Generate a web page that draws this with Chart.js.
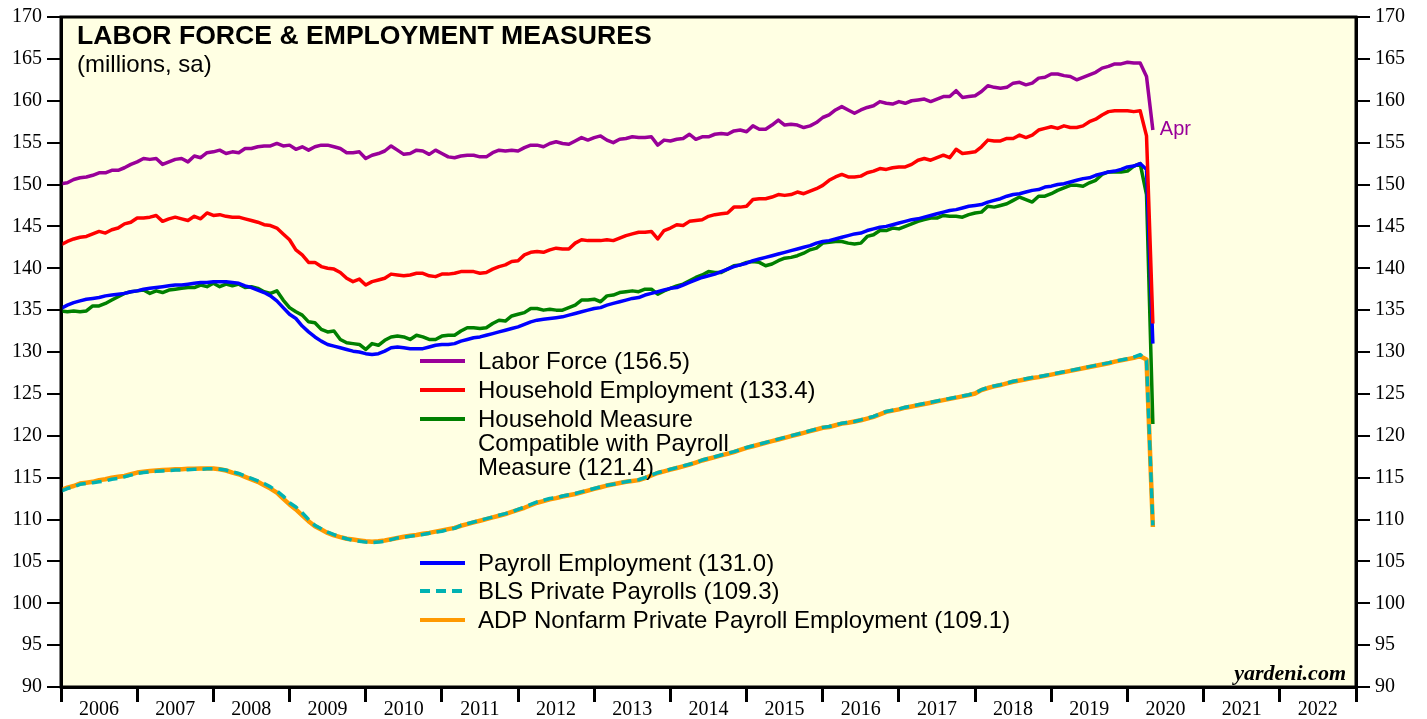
<!DOCTYPE html>
<html>
<head>
<meta charset="utf-8">
<script src="https://cdn.jsdelivr.net/npm/chart.js"></script>
<style>
  html, body { margin: 0; padding: 0; background: #ffffff; }
  #chart { display: block; }
</style>
</head>
<body>
<canvas id="chart" width="1427" height="719"></canvas>
<script>
// monthly data, Dec 2005 .. Apr 2020 (millions, sa)
const firstYear = 2006;
const lastMonthLabel = "Apr";

const laborForce = [150.1,
  150.2,150.6,150.8,150.9,151.1,151.4,151.4,151.7,151.7,152.0,152.4,152.7,
  153.1,153.0,153.1,152.4,152.7,153.0,153.1,152.7,153.4,153.2,153.8,153.9,
  154.1,153.7,153.9,153.8,154.3,154.3,154.5,154.6,154.6,154.9,154.6,154.7,
  154.2,154.5,154.1,154.5,154.7,154.7,154.5,154.3,153.8,153.8,153.9,153.1,
  153.5,153.7,154.0,154.6,154.1,153.6,153.7,154.1,154.0,153.6,154.1,153.7,
  153.3,153.2,153.4,153.5,153.5,153.3,153.3,153.8,154.1,154.0,154.1,154.0,
  154.4,154.7,154.7,154.5,154.9,155.1,154.9,154.8,155.2,155.6,155.3,155.6,
  155.8,155.3,155.0,155.4,155.5,155.7,155.6,155.6,155.7,154.7,155.3,155.2,
  155.4,155.5,156.0,155.4,155.7,155.7,156.0,156.1,156.0,156.4,156.5,156.3,
  157.0,156.6,156.6,157.1,157.7,157.1,157.2,157.1,156.8,157.0,157.4,158.0,
  158.3,158.9,159.3,158.9,158.5,158.9,159.2,159.4,159.9,159.7,159.6,159.9,
  159.7,160.0,160.1,160.2,159.9,160.2,160.5,160.5,161.2,160.4,160.5,160.6,
  161.1,161.8,161.6,161.5,161.6,162.1,162.2,161.9,162.1,162.7,162.8,163.2,
  163.2,163.0,162.9,162.5,162.8,163.1,163.4,163.9,164.1,164.4,164.4,164.6,
  164.5,164.5,162.9,156.5];

const householdEmp = [142.8,
  143.2,143.5,143.7,143.8,144.1,144.4,144.2,144.6,144.8,145.3,145.5,146.0,
  146.0,146.1,146.3,145.6,145.9,146.1,145.9,145.7,146.2,145.9,146.6,146.3,
  146.4,146.2,146.1,146.1,145.9,145.7,145.5,145.2,145.1,144.8,144.1,143.4,
  142.2,141.6,140.7,140.7,140.2,140.0,139.9,139.5,138.8,138.4,138.7,138.0,
  138.4,138.6,138.8,139.3,139.2,139.1,139.2,139.4,139.4,139.1,139.0,139.3,
  139.3,139.4,139.6,139.6,139.6,139.4,139.5,139.9,140.2,140.4,140.8,140.9,
  141.6,141.9,142.0,141.9,142.2,142.4,142.3,142.3,143.0,143.4,143.3,143.3,
  143.3,143.4,143.3,143.6,143.9,144.1,144.3,144.3,144.4,143.5,144.5,144.8,
  145.2,145.1,145.6,145.7,145.8,146.2,146.4,146.5,146.6,147.3,147.3,147.4,
  148.2,148.3,148.3,148.5,148.8,148.7,148.8,149.1,148.9,149.2,149.5,149.9,
  150.5,150.9,151.2,150.9,150.9,151.0,151.4,151.6,151.9,151.8,152.0,152.1,
  152.1,152.4,152.9,153.1,152.9,153.2,153.5,153.2,154.2,153.7,153.8,153.9,
  154.5,155.3,155.2,155.2,155.5,155.5,155.9,155.6,155.9,156.5,156.7,156.9,
  156.7,157.0,156.8,156.8,157.0,157.5,157.8,158.3,158.7,158.8,158.8,158.8,
  158.7,158.8,155.8,133.4];

const householdAdj = [134.9,
  134.8,134.9,134.8,134.9,135.5,135.5,135.8,136.2,136.6,137.0,137.2,137.3,
  137.4,137.0,137.3,137.1,137.4,137.5,137.6,137.7,137.7,138.0,137.8,138.2,
  137.8,138.1,137.9,138.1,137.7,137.8,137.6,137.2,137.0,137.3,136.2,135.3,
  134.8,134.4,133.6,133.5,132.7,132.4,132.5,131.5,131.1,131.0,130.9,130.3,
  131.0,130.8,131.4,131.8,131.9,131.8,131.5,132.0,131.8,131.5,131.5,131.9,
  132.0,132.0,132.5,132.9,132.9,132.8,132.9,133.4,133.8,133.7,134.3,134.5,
  134.7,135.2,135.2,135.0,135.1,135.0,135.0,135.3,135.6,136.2,136.2,136.3,
  136.0,136.7,136.8,137.1,137.2,137.3,137.2,137.5,137.5,136.9,137.3,137.6,
  137.9,138.1,138.5,138.9,139.2,139.6,139.5,139.5,139.9,140.3,140.4,140.7,
  140.8,140.7,140.3,140.5,140.9,141.2,141.3,141.5,141.8,142.2,142.4,143.0,
  143.1,143.2,143.2,143.0,142.9,143.0,143.8,144.0,144.5,144.5,144.8,144.7,
  145.0,145.3,145.6,145.8,146.0,146.0,146.3,146.2,146.2,146.1,146.4,146.6,
  146.7,147.4,147.3,147.5,147.7,148.1,148.5,148.2,147.9,148.6,148.6,148.9,
  149.3,149.6,149.9,149.9,149.8,150.2,150.5,151.2,151.5,151.5,151.5,151.6,
  152.2,152.5,148.8,121.4];

const payroll = [135.2,
  135.6,135.9,136.1,136.3,136.4,136.5,136.7,136.8,136.9,137.0,137.2,137.3,
  137.5,137.6,137.7,137.8,137.9,138.0,138.0,138.1,138.2,138.3,138.3,138.4,
  138.4,138.4,138.3,138.2,137.9,137.7,137.4,137.1,136.7,136.1,135.3,134.5,
  134.0,133.1,132.4,131.8,131.3,130.9,130.7,130.5,130.3,130.1,130.0,129.8,
  129.7,129.8,130.1,130.5,130.6,130.5,130.4,130.4,130.4,130.6,130.8,130.9,
  130.9,131.0,131.3,131.5,131.7,131.8,132.0,132.2,132.4,132.6,132.8,133.0,
  133.3,133.6,133.8,133.9,134.0,134.1,134.2,134.4,134.6,134.8,135.0,135.2,
  135.3,135.6,135.8,136.0,136.2,136.4,136.5,136.8,137.0,137.2,137.4,137.6,
  137.7,138.0,138.3,138.6,138.9,139.1,139.3,139.6,139.9,140.2,140.4,140.6,
  140.9,141.1,141.3,141.5,141.7,141.9,142.1,142.3,142.5,142.7,143.0,143.2,
  143.3,143.5,143.7,143.9,144.1,144.2,144.5,144.7,144.9,145.0,145.2,145.4,
  145.6,145.8,145.9,146.1,146.3,146.5,146.7,146.9,147.0,147.2,147.4,147.5,
  147.6,147.9,148.1,148.3,148.6,148.8,148.9,149.1,149.3,149.4,149.7,149.8,
  150.0,150.1,150.3,150.5,150.7,150.8,151.1,151.3,151.5,151.6,151.8,152.1,
  152.2,152.5,151.8,131.0];

const blsPrivate = [113.4,
  113.7,113.9,114.2,114.3,114.4,114.5,114.6,114.8,114.9,115.1,115.3,115.5,
  115.6,115.7,115.75,115.8,115.85,115.9,115.9,115.95,116.0,116.0,116.05,116.05,
  116.0,115.9,115.7,115.5,115.2,114.9,114.6,114.3,113.9,113.4,112.8,112.0,
  111.5,110.8,110.0,109.3,108.9,108.5,108.2,107.9,107.7,107.5,107.4,107.3,
  107.25,107.3,107.4,107.6,107.8,107.9,108.0,108.1,108.2,108.35,108.5,108.6,
  108.8,108.95,109.3,109.5,109.7,109.9,110.1,110.3,110.5,110.7,110.9,111.2,
  111.5,111.8,112.1,112.3,112.5,112.6,112.8,112.95,113.1,113.3,113.5,113.7,
  113.9,114.1,114.2,114.4,114.5,114.65,114.75,115.0,115.3,115.6,115.8,116.0,
  116.2,116.4,116.6,116.8,117.1,117.3,117.5,117.7,117.9,118.1,118.35,118.6,
  118.8,119.0,119.2,119.4,119.6,119.8,120.0,120.2,120.4,120.6,120.8,121.0,
  121.1,121.3,121.5,121.6,121.7,121.9,122.1,122.3,122.6,122.9,123.05,123.2,
  123.4,123.55,123.7,123.85,124.0,124.15,124.3,124.45,124.6,124.75,124.9,125.1,
  125.5,125.75,125.95,126.1,126.3,126.5,126.65,126.8,126.95,127.05,127.2,127.35,
  127.5,127.65,127.8,127.95,128.1,128.25,128.4,128.55,128.7,128.9,129.05,129.2,
  129.4,129.7,129.0,109.3];

const adpPrivate = [113.5,
  113.8,114.0,114.3,114.4,114.5,114.7,114.8,115.0,115.1,115.2,115.4,115.6,
  115.7,115.8,115.85,115.9,115.95,116.0,116.0,116.05,116.05,116.1,116.1,116.1,
  116.0,115.85,115.6,115.4,115.1,114.8,114.5,114.1,113.7,113.2,112.5,111.8,
  111.2,110.5,109.8,109.2,108.8,108.4,108.1,107.9,107.7,107.6,107.5,107.4,
  107.35,107.4,107.5,107.65,107.8,107.95,108.05,108.15,108.3,108.4,108.55,108.7,
  108.85,109.0,109.25,109.45,109.65,109.85,110.05,110.25,110.45,110.65,110.9,111.15,
  111.4,111.7,112.0,112.2,112.4,112.55,112.75,112.9,113.05,113.25,113.45,113.65,
  113.85,114.05,114.2,114.35,114.5,114.6,114.7,114.95,115.25,115.55,115.75,115.95,
  116.15,116.35,116.55,116.8,117.05,117.25,117.45,117.65,117.85,118.05,118.3,118.55,
  118.75,118.95,119.15,119.35,119.55,119.75,119.95,120.15,120.35,120.55,120.75,120.95,
  121.05,121.25,121.45,121.55,121.7,121.85,122.05,122.25,122.55,122.85,123.0,123.15,
  123.35,123.5,123.65,123.8,123.95,124.1,124.25,124.4,124.55,124.7,124.85,125.05,
  125.45,125.7,125.9,126.05,126.25,126.45,126.6,126.75,126.9,127.0,127.15,127.3,
  127.45,127.6,127.75,127.9,128.05,128.2,128.35,128.5,128.65,128.85,129.0,129.15,
  129.3,129.5,129.1,109.1];

const yTicks = [90, 95, 100, 105, 110, 115, 120, 125, 130, 135, 140, 145, 150, 155, 160, 165, 170];
const yearLabels = [2006, 2007, 2008, 2009, 2010, 2011, 2012, 2013, 2014, 2015, 2016, 2017, 2018, 2019, 2020, 2021, 2022];

const legendLabels = [
  "Labor Force (156.5)",
  "Household Employment (133.4)",
  "Household Measure\nCompatible with Payroll\nMeasure (121.4)",
  "Payroll Employment (131.0)",
  "BLS Private Payrolls (109.3)",
  "ADP Nonfarm Private Payroll Employment (109.1)"
];

const titleText = "LABOR FORCE & EMPLOYMENT MEASURES";
const subtitleText = "(millions, sa)";
const sourceText = "yardeni.com";

// month i (0 = Dec 2005) sits at the end of that month
function toPoints(arr) {
  return arr.map((v, i) => ({ x: firstYear + i / 12, y: v }));
}

const SANS = "'Liberation Sans', Arial, sans-serif";
const SERIF = "'Liberation Serif', 'Times New Roman', serif";

// datasets: first one is drawn on top
const datasets = [
  { label: legendLabels[0], data: toPoints(laborForce), borderColor: "#990099", borderWidth: 3.5 },
  { label: legendLabels[1], data: toPoints(householdEmp), borderColor: "#ff0000", borderWidth: 3.5 },
  { label: legendLabels[3], data: toPoints(payroll), borderColor: "#0000ff", borderWidth: 3.5 },
  { label: legendLabels[2], data: toPoints(householdAdj), borderColor: "#008000", borderWidth: 3.5 },
  { label: legendLabels[4], data: toPoints(blsPrivate), borderColor: "#00b2b2", borderWidth: 3.5, borderDash: [10, 6] },
  { label: legendLabels[5], data: toPoints(adpPrivate), borderColor: "#ff9900", borderWidth: 4.5 }
];

// cream plot background
const bgPlugin = {
  id: "bg",
  beforeDraw(chart) {
    const { ctx, chartArea: a } = chart;
    ctx.save();
    ctx.fillStyle = "#ffffe3";
    ctx.fillRect(a.left, a.top, a.right - a.left, a.bottom - a.top);
    ctx.restore();
  }
};

// frame, title, legend and notes
const decoPlugin = {
  id: "deco",
  afterDraw(chart) {
    const { ctx, chartArea: a } = chart;
    ctx.save();
    ctx.strokeStyle = "#000";
    ctx.lineWidth = 3;
    ctx.strokeRect(a.left, a.top, a.right - a.left, a.bottom - a.top);

    ctx.fillStyle = "#000";
    ctx.textBaseline = "alphabetic";
    ctx.textAlign = "left";
    ctx.font = "bold 26.6px " + SANS;
    ctx.fillText(titleText, 77, 44);
    ctx.font = "24px " + SANS;
    ctx.fillText(subtitleText, 77, 72);

    // legend in two groups
    const rows = [
      { ds: 0, y: 369 }, { ds: 1, y: 398 }, { ds: 3, y: 427 },
      { ds: 2, y: 571 }, { ds: 4, y: 599 }, { ds: 5, y: 628 }
    ];
    ctx.font = "24px " + SANS;
    rows.forEach(r => {
      const d = chart.data.datasets[r.ds];
      ctx.save();
      ctx.strokeStyle = d.borderColor;
      ctx.lineWidth = 4;
      ctx.setLineDash(d.borderDash || []);
      ctx.beginPath();
      ctx.moveTo(420, r.y - 8);
      ctx.lineTo(465, r.y - 8);
      ctx.stroke();
      ctx.restore();
      ctx.fillStyle = "#000";
      d.label.split("\n").forEach((line, k) => ctx.fillText(line, 478, r.y + k * 24));
    });

    // end label for the labor force line
    const xs = chart.scales.x, ys = chart.scales.y;
    const lastI = laborForce.length - 1;
    ctx.fillStyle = "#990099";
    ctx.font = "20px " + SANS;
    ctx.fillText(lastMonthLabel, xs.getPixelForValue(firstYear + lastI / 12) + 7, ys.getPixelForValue(laborForce[lastI]) + 5);

    ctx.fillStyle = "#000";
    ctx.textAlign = "right";
    ctx.font = "italic bold 22px " + SERIF;
    ctx.fillText(sourceText, 1346, 680);
    ctx.restore();
  }
};

const yAxis = (pos, w) => ({
  type: "linear",
  position: pos,
  display: true,
  min: yTicks[0],
  max: yTicks[yTicks.length - 1],
  afterBuildTicks: s => { s.ticks = yTicks.map(v => ({ value: v })); },
  afterFit: s => { s.width = w; },
  grid: { drawOnChartArea: false, drawTicks: true, tickLength: 14, color: "#000", lineWidth: 2 },
  border: { display: true, color: "#000", width: 3 },
  ticks: { color: "#000", padding: 5, font: { family: SERIF, size: 20 } }
});

new Chart(document.getElementById("chart").getContext("2d"), {
  type: "line",
  data: { datasets: datasets },
  options: {
    responsive: false,
    devicePixelRatio: 1,
    animation: false,
    parsing: true,
    layout: { padding: { top: 15, left: 0, right: 0, bottom: 0 } },
    elements: { point: { radius: 0 }, line: { tension: 0, fill: false, borderCapStyle: "butt", borderJoinStyle: "round" } },
    plugins: { legend: { display: false }, tooltip: { enabled: false }, title: { display: false } },
    scales: {
      x: {
        type: "linear",
        min: yearLabels[0],
        max: yearLabels[yearLabels.length - 1] + 1,
        afterBuildTicks: s => {
          s.ticks = yearLabels.map(v => ({ value: v })).concat([{ value: yearLabels[yearLabels.length - 1] + 1 }]);
        },
        afterFit: s => { s.height = 32; },
        grid: { drawOnChartArea: false, drawTicks: true, tickLength: 15, color: "#000", lineWidth: 3 },
        border: { display: true, color: "#000", width: 3 },
        ticks: {
          color: "#000",
          autoSkip: false,
          maxRotation: 0,
          padding: -4,
          labelOffset: 38,
          font: { family: SERIF, size: 20 },
          callback: v => (yearLabels.includes(v) ? String(v) : "")
        }
      },
      y: yAxis("left", 61),
      y2: yAxis("right", 71)
    }
  },
  plugins: [bgPlugin, decoPlugin]
});
</script>
</body>
</html>
